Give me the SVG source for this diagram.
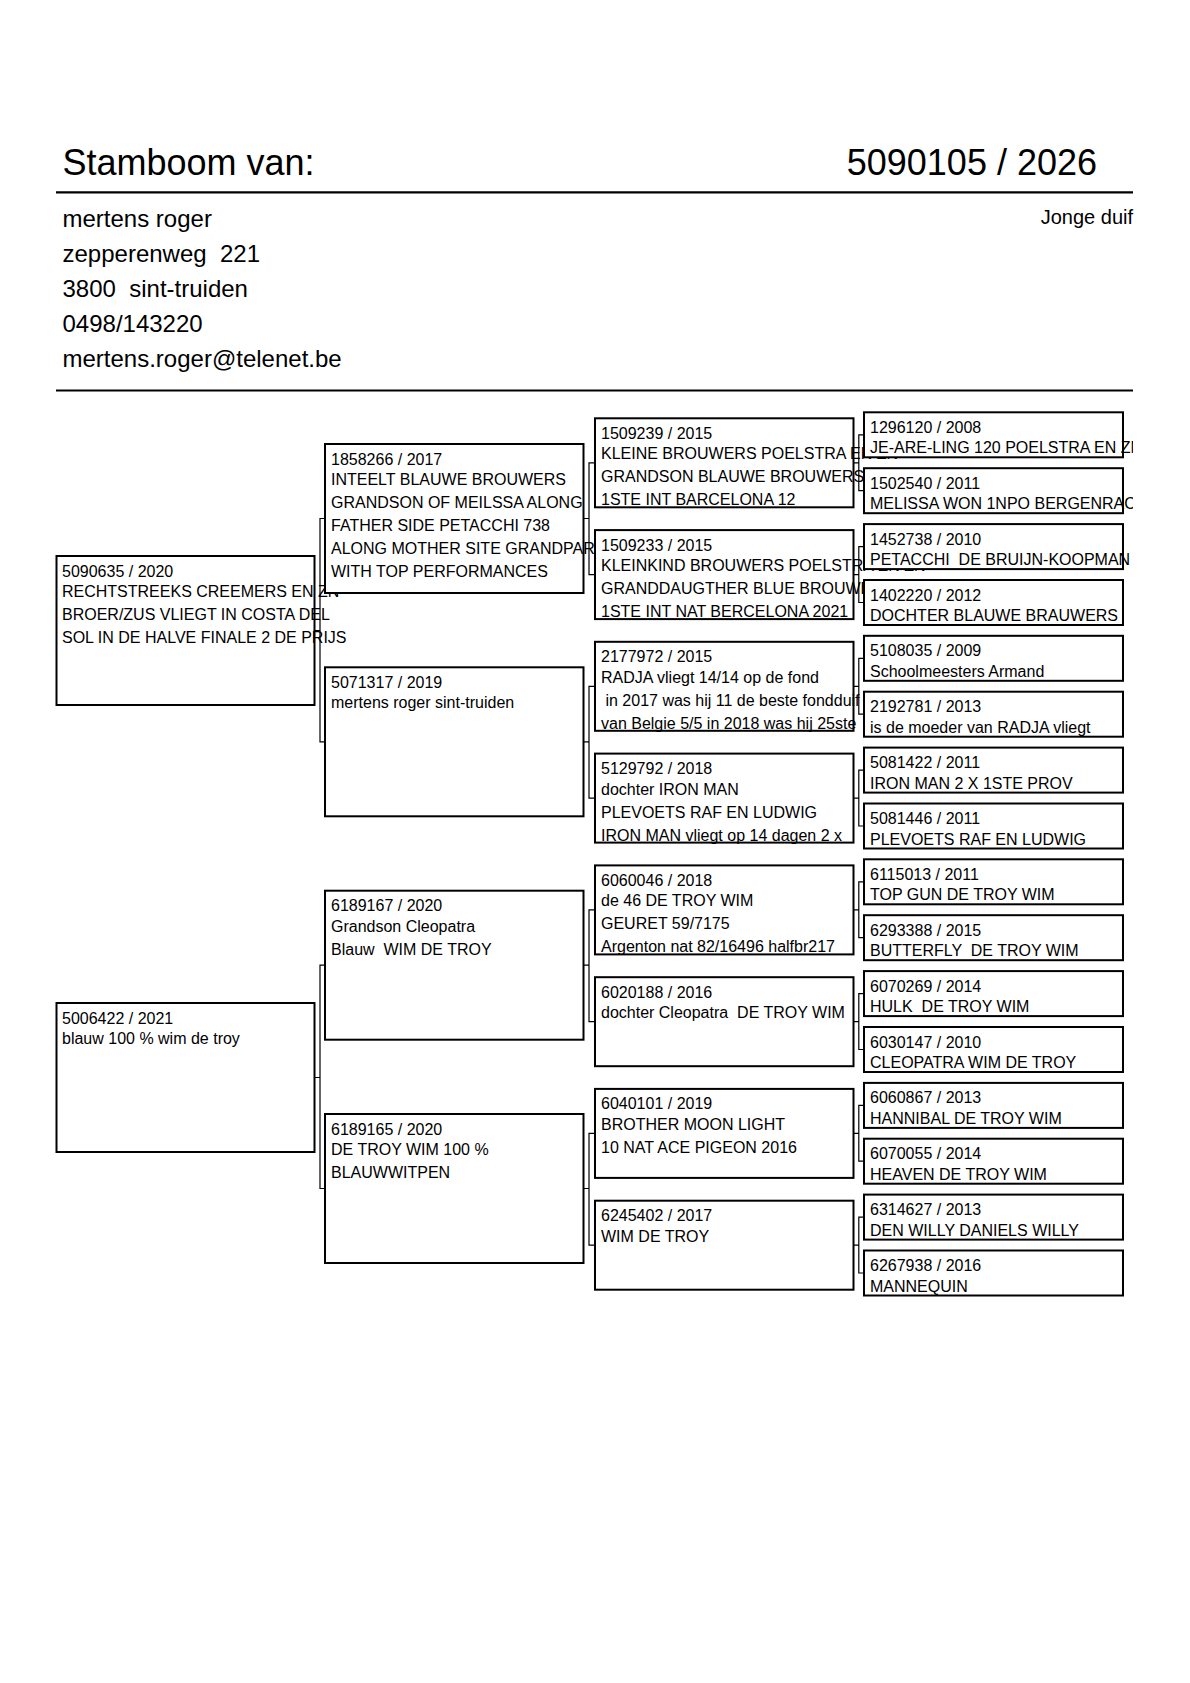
<svg xmlns="http://www.w3.org/2000/svg" width="1190" height="1683" viewBox="0 0 1190 1683">
<style>
  text { font-family: "Liberation Sans", Arial, sans-serif; fill: #000; white-space: pre; }
  .t { font-size: 16px; }
  .box { fill: #fff; stroke: #000; stroke-width: 2; }
  .con { fill: none; stroke: #000; stroke-width: 1.2; }
  .hdr { font-size: 36px; }
  .adr { font-size: 24px; }
</style>
<defs>
  <clipPath id="page"><rect x="0" y="0" width="1133" height="1683"/></clipPath>
</defs>
<rect x="0" y="0" width="1190" height="1683" fill="#fff"/>
<g id="header">
  <text class="hdr" x="62.5" y="175">Stamboom van:</text>
  <text class="hdr" x="1097" y="175" text-anchor="end">5090105 / 2026</text>
  <line x1="56" y1="192.3" x2="1133" y2="192.3" stroke="#000" stroke-width="2.2"/>
  <text class="adr" x="62.5" y="227">mertens roger</text>
  <text class="adr" x="62.5" y="262" xml:space="preserve">zepperenweg  221</text>
  <text class="adr" x="62.5" y="297" xml:space="preserve">3800  sint-truiden</text>
  <text class="adr" x="62.5" y="332">0498/143220</text>
  <text class="adr" x="62.5" y="367">mertens.roger@telenet.be</text>
  <text x="1133" y="224" font-size="20" text-anchor="end">Jonge duif</text>
  <line x1="56" y1="390.5" x2="1133" y2="390.5" stroke="#000" stroke-width="1.8"/>
</g>
<g id="tree" clip-path="url(#page)">
  <g id="n-5090635">
    <rect class="box" x="56.5" y="556" width="258" height="149"/>
    <text class="t" x="62" y="576.5">5090635 / 2020</text>
    <text class="t" x="62" y="597">RECHTSTREEKS CREEMERS EN ZN</text>
    <text class="t" x="62" y="620">BROER/ZUS VLIEGT IN COSTA DEL</text>
    <text class="t" x="62" y="643">SOL IN DE HALVE FINALE 2 DE PRIJS</text>
  </g>
  <g id="n-5006422">
    <rect class="box" x="56.5" y="1003" width="258" height="149"/>
    <text class="t" x="62" y="1023.5">5006422 / 2021</text>
    <text class="t" x="62" y="1044">blauw 100 % wim de troy</text>
  </g>
  <g id="n-1858266">
    <rect class="box" x="325" y="444" width="258.5" height="149"/>
    <text class="t" x="331" y="464.5">1858266 / 2017</text>
    <text class="t" x="331" y="485">INTEELT BLAUWE BROUWERS</text>
    <text class="t" x="331" y="508">GRANDSON OF MEILSSA ALONG</text>
    <text class="t" x="331" y="531">FATHER SIDE PETACCHI 738</text>
    <text class="t" x="331" y="554">ALONG MOTHER SITE GRANDPARENTS</text>
    <text class="t" x="331" y="577">WITH TOP PERFORMANCES</text>
  </g>
  <g id="n-5071317">
    <rect class="box" x="325" y="667.3" width="258.5" height="149"/>
    <text class="t" x="331" y="687.8">5071317 / 2019</text>
    <text class="t" x="331" y="708.3">mertens roger sint-truiden</text>
  </g>
  <g id="n-6189167">
    <rect class="box" x="325" y="890.7" width="258.5" height="149"/>
    <text class="t" x="331" y="911.2">6189167 / 2020</text>
    <text class="t" x="331" y="931.7">Grandson Cleopatra</text>
    <text class="t" x="331" y="954.7" xml:space="preserve">Blauw  WIM DE TROY</text>
  </g>
  <g id="n-6189165">
    <rect class="box" x="325" y="1114" width="258.5" height="149"/>
    <text class="t" x="331" y="1134.5">6189165 / 2020</text>
    <text class="t" x="331" y="1155">DE TROY WIM 100 %</text>
    <text class="t" x="331" y="1178">BLAUWWITPEN</text>
  </g>
  <g id="n-1509239">
    <rect class="box" x="595" y="418.3" width="258.5" height="89"/>
    <text class="t" x="601" y="438.8">1509239 / 2015</text>
    <text class="t" x="601" y="459.3">KLEINE BROUWERS POELSTRA EN ZN</text>
    <text class="t" x="601" y="482.3">GRANDSON BLAUWE BROUWERS</text>
    <text class="t" x="601" y="505.3">1STE INT BARCELONA 12</text>
  </g>
  <g id="n-1509233">
    <rect class="box" x="595" y="530.1" width="258.5" height="89"/>
    <text class="t" x="601" y="550.6">1509233 / 2015</text>
    <text class="t" x="601" y="571.1">KLEINKIND BROUWERS POELSTRA EN ZN</text>
    <text class="t" x="601" y="594.1">GRANDDAUGTHER BLUE BROUWERS</text>
    <text class="t" x="601" y="617.1">1STE INT NAT BERCELONA 2021</text>
  </g>
  <g id="n-2177972">
    <rect class="box" x="595" y="641.8" width="258.5" height="89"/>
    <text class="t" x="601" y="662.3">2177972 / 2015</text>
    <text class="t" x="601" y="682.8">RADJA vliegt 14/14 op de fond</text>
    <text class="t" x="601" y="705.8" xml:space="preserve"> in 2017 was hij 11 de beste fondduif</text>
    <text class="t" x="601" y="728.8">van Belgie 5/5 in 2018 was hij 25ste</text>
  </g>
  <g id="n-5129792">
    <rect class="box" x="595" y="753.6" width="258.5" height="89"/>
    <text class="t" x="601" y="774.1">5129792 / 2018</text>
    <text class="t" x="601" y="794.6">dochter IRON MAN</text>
    <text class="t" x="601" y="817.6">PLEVOETS RAF EN LUDWIG</text>
    <text class="t" x="601" y="840.6">IRON MAN vliegt op 14 dagen 2 x</text>
  </g>
  <g id="n-6060046">
    <rect class="box" x="595" y="865.4" width="258.5" height="89"/>
    <text class="t" x="601" y="885.9">6060046 / 2018</text>
    <text class="t" x="601" y="906.4">de 46 DE TROY WIM</text>
    <text class="t" x="601" y="929.4">GEURET 59/7175</text>
    <text class="t" x="601" y="952.4">Argenton nat 82/16496 halfbr217</text>
  </g>
  <g id="n-6020188">
    <rect class="box" x="595" y="977.2" width="258.5" height="89"/>
    <text class="t" x="601" y="997.7">6020188 / 2016</text>
    <text class="t" x="601" y="1018.2" xml:space="preserve">dochter Cleopatra  DE TROY WIM</text>
  </g>
  <g id="n-6040101">
    <rect class="box" x="595" y="1088.9" width="258.5" height="89"/>
    <text class="t" x="601" y="1109.4">6040101 / 2019</text>
    <text class="t" x="601" y="1129.9">BROTHER MOON LIGHT</text>
    <text class="t" x="601" y="1152.9">10 NAT ACE PIGEON 2016</text>
  </g>
  <g id="n-6245402">
    <rect class="box" x="595" y="1200.7" width="258.5" height="89"/>
    <text class="t" x="601" y="1221.2">6245402 / 2017</text>
    <text class="t" x="601" y="1241.7">WIM DE TROY</text>
  </g>
  <g id="n-1296120">
    <rect class="box" x="864" y="412.3" width="259" height="45"/>
    <text class="t" x="870" y="432.8">1296120 / 2008</text>
    <text class="t" x="870" y="453.3">JE-ARE-LING 120 POELSTRA EN ZN</text>
  </g>
  <g id="n-1502540">
    <rect class="box" x="864" y="468.2" width="259" height="45"/>
    <text class="t" x="870" y="488.7">1502540 / 2011</text>
    <text class="t" x="870" y="509.2">MELISSA WON 1NPO BERGENRAC</text>
  </g>
  <g id="n-1452738">
    <rect class="box" x="864" y="524.1" width="259" height="45"/>
    <text class="t" x="870" y="544.6">1452738 / 2010</text>
    <text class="t" x="870" y="565.1" xml:space="preserve">PETACCHI  DE BRUIJN-KOOPMAN</text>
  </g>
  <g id="n-1402220">
    <rect class="box" x="864" y="580" width="259" height="45"/>
    <text class="t" x="870" y="600.5">1402220 / 2012</text>
    <text class="t" x="870" y="621">DOCHTER BLAUWE BRAUWERS</text>
  </g>
  <g id="n-5108035">
    <rect class="box" x="864" y="635.8" width="259" height="45"/>
    <text class="t" x="870" y="656.3">5108035 / 2009</text>
    <text class="t" x="870" y="676.8">Schoolmeesters Armand</text>
  </g>
  <g id="n-2192781">
    <rect class="box" x="864" y="691.7" width="259" height="45"/>
    <text class="t" x="870" y="712.2">2192781 / 2013</text>
    <text class="t" x="870" y="732.7">is de moeder van RADJA vliegt</text>
  </g>
  <g id="n-5081422">
    <rect class="box" x="864" y="747.6" width="259" height="45"/>
    <text class="t" x="870" y="768.1">5081422 / 2011</text>
    <text class="t" x="870" y="788.6">IRON MAN 2 X 1STE PROV</text>
  </g>
  <g id="n-5081446">
    <rect class="box" x="864" y="803.5" width="259" height="45"/>
    <text class="t" x="870" y="824">5081446 / 2011</text>
    <text class="t" x="870" y="844.5">PLEVOETS RAF EN LUDWIG</text>
  </g>
  <g id="n-6115013">
    <rect class="box" x="864" y="859.3" width="259" height="45"/>
    <text class="t" x="870" y="879.8">6115013 / 2011</text>
    <text class="t" x="870" y="900.3">TOP GUN DE TROY WIM</text>
  </g>
  <g id="n-6293388">
    <rect class="box" x="864" y="915.2" width="259" height="45"/>
    <text class="t" x="870" y="935.7">6293388 / 2015</text>
    <text class="t" x="870" y="956.2" xml:space="preserve">BUTTERFLY  DE TROY WIM</text>
  </g>
  <g id="n-6070269">
    <rect class="box" x="864" y="971.1" width="259" height="45"/>
    <text class="t" x="870" y="991.6">6070269 / 2014</text>
    <text class="t" x="870" y="1012.1" xml:space="preserve">HULK  DE TROY WIM</text>
  </g>
  <g id="n-6030147">
    <rect class="box" x="864" y="1027" width="259" height="45"/>
    <text class="t" x="870" y="1047.5">6030147 / 2010</text>
    <text class="t" x="870" y="1068">CLEOPATRA WIM DE TROY</text>
  </g>
  <g id="n-6060867">
    <rect class="box" x="864" y="1082.9" width="259" height="45"/>
    <text class="t" x="870" y="1103.4">6060867 / 2013</text>
    <text class="t" x="870" y="1123.9">HANNIBAL DE TROY WIM</text>
  </g>
  <g id="n-6070055">
    <rect class="box" x="864" y="1138.7" width="259" height="45"/>
    <text class="t" x="870" y="1159.2">6070055 / 2014</text>
    <text class="t" x="870" y="1179.7">HEAVEN DE TROY WIM</text>
  </g>
  <g id="n-6314627">
    <rect class="box" x="864" y="1194.6" width="259" height="45"/>
    <text class="t" x="870" y="1215.1">6314627 / 2013</text>
    <text class="t" x="870" y="1235.6">DEN WILLY DANIELS WILLY</text>
  </g>
  <g id="n-6267938">
    <rect class="box" x="864" y="1250.5" width="259" height="45"/>
    <text class="t" x="870" y="1271">6267938 / 2016</text>
    <text class="t" x="870" y="1291.5">MANNEQUIN</text>
  </g>
  <g id="connectors" class="con">
    <path d="M314.5 630.5H320M325 518.5H320V741.8H325"/>
    <path d="M314.5 1077.5H320M325 965.2H320V1188.5H325"/>
    <path d="M583.5 518.5H589M595 462.8H589V574.6H595"/>
    <path d="M583.5 741.8H589M595 686.3H589V798.1H595"/>
    <path d="M583.5 965.2H589M595 909.9H589V1021.7H595"/>
    <path d="M583.5 1188.5H589M595 1133.4H589V1245.2H595"/>
    <path d="M853.5 462.8H858.8M864 434.8H858.8V490.7H864"/>
    <path d="M853.5 574.6H858.8M864 546.6H858.8V602.5H864"/>
    <path d="M853.5 686.3H858.8M864 658.3H858.8V714.2H864"/>
    <path d="M853.5 798.1H858.8M864 770.1H858.8V826H864"/>
    <path d="M853.5 909.9H858.8M864 881.8H858.8V937.7H864"/>
    <path d="M853.5 1021.7H858.8M864 993.6H858.8V1049.5H864"/>
    <path d="M853.5 1133.4H858.8M864 1105.4H858.8V1161.2H864"/>
    <path d="M853.5 1245.2H858.8M864 1217.1H858.8V1273H864"/>
  </g>
</g>
</svg>
